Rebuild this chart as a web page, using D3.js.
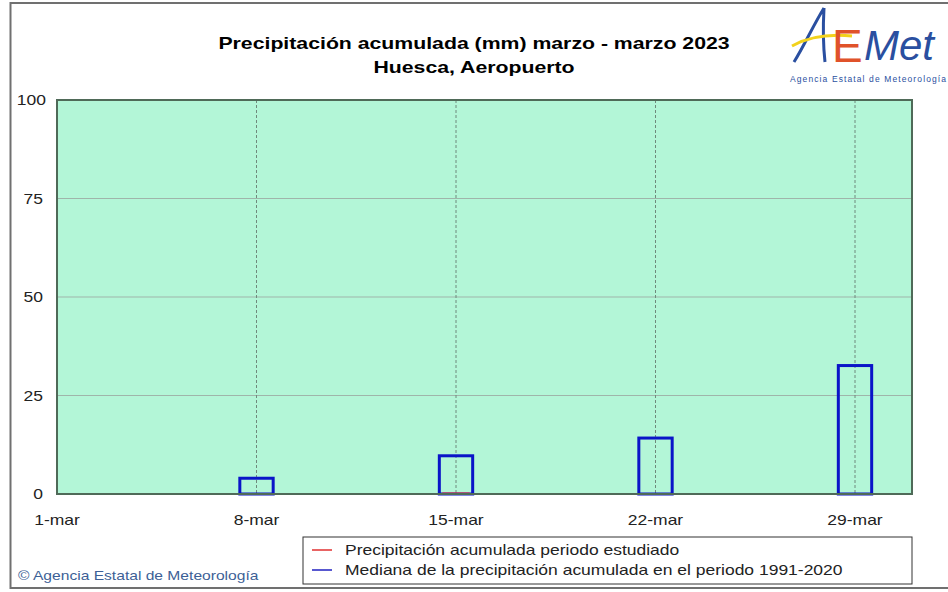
<!DOCTYPE html>
<html>
<head>
<meta charset="utf-8">
<script src="https://cdn.jsdelivr.net/npm/d3@7"></script>
<style>
  body { margin: 0; background: #fff; }
  text { font-family: "Liberation Sans", Arial, sans-serif; }
</style>
</head>
<body>
<div id="vis"></div>
<script>
// chart data
const days = [8, 15, 22, 29];                 // day of march
const mediana = [4.0, 9.7, 14.2, 32.6];       // median 1991-2020 (mm)
const estudiado = [0, 0.4];                   // accumulated in studied period (mm)
const xTicks = [1, 8, 15, 22, 29];
const yTicks = [0, 25, 50, 75, 100];
const legendLabels = ['Precipitación acumulada periodo estudiado',
                      'Mediana de la precipitación acumulada en el periodo 1991-2020'];
const legendColors = ['#e03030', '#2020c0'];

let W = 948, H = 592;
let margin = { top: 100, left: 57, right: 36, bottom: 98 },
  width = W - margin.left - margin.right,
  height = H - margin.top - margin.bottom;

// the source image is stretched horizontally, so text is widened
const SX = 1.25;
function wide(x, y) { return 'translate(' + x + ',' + y + ') scale(' + SX + ',1)'; }

let svg = d3.select('#vis')
  .append('svg')
  .attr('width', W)
  .attr('height', H);

// outer frame
svg.append('rect')
  .attr('x', 10.5).attr('y', 3)
  .attr('width', W).attr('height', 585)
  .attr('fill', 'none')
  .attr('stroke', '#707070')
  .attr('stroke-width', 2);

// title
svg.append('text')
  .attr('transform', wide(474, 49))
  .attr('text-anchor', 'middle')
  .attr('font-size', 17).attr('font-weight', 'bold')
  .text('Precipitación acumulada (mm) marzo - marzo 2023');
svg.append('text')
  .attr('transform', wide(474, 73))
  .attr('text-anchor', 'middle')
  .attr('font-size', 17).attr('font-weight', 'bold')
  .text('Huesca, Aeropuerto');

// scales
let x = d3.scaleLinear().domain([1, 31]).range([0, width]);
let y = d3.scaleLinear().domain([0, 100]).range([height, 0]);

let g = svg.append('g')
  .attr('transform', 'translate(' + margin.left + ',' + margin.top + ')');

// plot background
g.append('rect')
  .attr('width', width).attr('height', height)
  .attr('fill', '#b3f6d7');

// horizontal grid
g.append('g')
  .selectAll('line')
  .data(yTicks.slice(1, -1))
  .join('line')
  .attr('x1', 0).attr('x2', width)
  .attr('y1', d => y(d)).attr('y2', d => y(d))
  .attr('stroke', '#9fb5aa').attr('stroke-width', 1);

// vertical dashed grid
g.append('g')
  .selectAll('line')
  .data(xTicks.slice(1))
  .join('line')
  .attr('x1', d => x(d)).attr('x2', d => x(d))
  .attr('y1', 0).attr('y2', height)
  .attr('stroke', '#6f8a7c').attr('stroke-width', 1)
  .attr('stroke-dasharray', '3,2');

// median boxes
let barW = x(2.17) - x(1);
g.append('g')
  .selectAll('rect')
  .data(days.map((d, i) => ({ day: d, v: mediana[i] })))
  .join('rect')
  .attr('x', d => x(d.day) - barW / 2)
  .attr('y', d => y(d.v))
  .attr('width', barW)
  .attr('height', d => y(0) - y(d.v))
  .attr('fill', 'none')
  .attr('stroke', '#0a14c8')
  .attr('stroke-width', 3);

// studied period
let redW = barW - 6;
g.append('g')
  .selectAll('rect')
  .data(estudiado.map((v, i) => ({ day: days[i], v: v })).filter(d => d.v > 0))
  .join('rect')
  .attr('x', d => x(d.day) - redW / 2)
  .attr('y', d => y(d.v))
  .attr('width', redW)
  .attr('height', d => y(0) - y(d.v))
  .attr('fill', '#e83040');

// plot border
g.append('rect')
  .attr('width', width).attr('height', height)
  .attr('fill', 'none')
  .attr('stroke', '#4f6a58')
  .attr('stroke-width', 2);

// y axis labels
g.append('g')
  .selectAll('text')
  .data(yTicks)
  .join('text')
  .attr('transform', d => wide(d === 100 ? -11 : -14, y(d) + 5))
  .attr('text-anchor', 'end')
  .attr('font-size', 14)
  .attr('fill', '#222')
  .text(d => d);

// x axis labels
g.append('g')
  .selectAll('text')
  .data(xTicks)
  .join('text')
  .attr('transform', d => wide(x(d), height + 31))
  .attr('text-anchor', 'middle')
  .attr('font-size', 14)
  .attr('fill', '#222')
  .text(d => d + '-mar');

// legend
let legend = svg.append('g').attr('transform', 'translate(303,537)');
legend.append('rect')
  .attr('width', 609).attr('height', 47)
  .attr('fill', '#fff')
  .attr('stroke', '#333').attr('stroke-width', 1);
let items = legend.selectAll('.item')
  .data(legendLabels)
  .join('g')
  .attr('class', 'item')
  .attr('transform', (d, i) => 'translate(0,' + (13 + i * 20) + ')');
items.append('line')
  .attr('x1', 9).attr('x2', 29)
  .attr('stroke', (d, i) => legendColors[i])
  .attr('stroke-width', 1.5);
items.append('text')
  .attr('transform', wide(42, 5))
  .attr('font-size', 14)
  .attr('fill', '#222')
  .text(d => d);

// copyright
svg.append('text')
  .attr('transform', wide(18, 580))
  .attr('font-size', 12.5)
  .attr('fill', '#3d5f96')
  .text('© Agencia Estatal de Meteorología');

// logo
let logo = svg.append('g').attr('transform', 'translate(790,6)');
logo.append('path')
  .attr('d', 'M4,56 C14,40 24,18 34,2 M34,2 C33,20 33,38 35,56')
  .attr('fill', 'none').attr('stroke', '#2a4fa0').attr('stroke-width', 3);
logo.append('path')
  .attr('d', 'M2,40 C20,30 40,28 62,30')
  .attr('fill', 'none').attr('stroke', '#f2d21c').attr('stroke-width', 3);
logo.append('text')
  .attr('x', 42).attr('y', 56)
  .attr('font-size', 46)
  .attr('font-family', 'DejaVu Sans')
  .attr('fill', '#e0522a')
  .text('E');
logo.append('text')
  .attr('x', 74).attr('y', 54)
  .attr('font-size', 42)
  .attr('font-style', 'italic')
  .attr('font-family', 'DejaVu Serif')
  .attr('fill', '#2a4fa0')
  .text('Met');
logo.append('text')
  .attr('x', 0).attr('y', 76)
  .attr('font-size', 8.5)
  .attr('fill', '#2a4fa0')
  .attr('textLength', 156)
  .text('Agencia Estatal de Meteorología');
</script>
</body>
</html>
